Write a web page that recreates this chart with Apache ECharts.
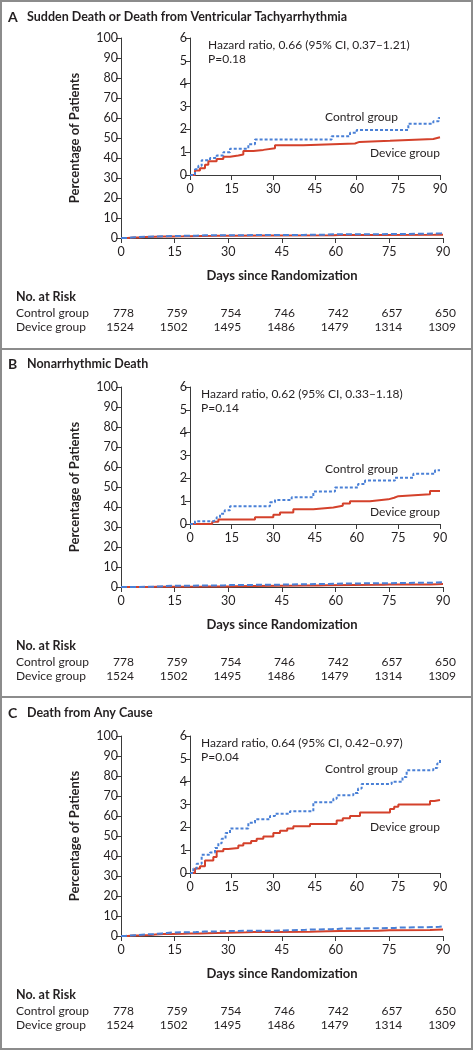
<!DOCTYPE html>
<html><head><meta charset="utf-8">
<script src="https://cdn.jsdelivr.net/npm/echarts@6/dist/echarts.min.js"></script>
<style>html,body{margin:0;padding:0;background:#fff}#c{width:473px;height:1050px}</style>
</head><body><div id="c"></div>
<script>
// ---------- data ----------
const dayTicks = [0, 15, 30, 45, 60, 75, 90];
const panelLetters = ['A', 'B', 'C'];
const panelTitles = ['Sudden Death or Death from Ventricular Tachyarrhythmia', 'Nonarrhythmic Death', 'Death from Any Cause'];
const hazardTexts = ['Hazard ratio, 0.66 (95% CI, 0.37\u20131.21)', 'Hazard ratio, 0.62 (95% CI, 0.33\u20131.18)', 'Hazard ratio, 0.64 (95% CI, 0.42\u20130.97)'];
const pTexts = ['P=0.18', 'P=0.14', 'P=0.04'];
const groupNames = ['Control group', 'Device group'];

const controlA = [[0,0],[1.8,0.25],[3,0.4],[4.2,0.65],[7.2,0.74],[9.6,0.85],[12,1.0],[14.4,1.15],[21,1.35],[23.4,1.55],[51,1.7],[57.6,1.85],[60,1.97],[78.6,2.25],[87.6,2.35],[89.5,2.5],[90,2.5]];
const deviceA = [[0,0],[1.8,0.2],[3.6,0.3],[5.4,0.45],[6.6,0.6],[9.6,0.7],[12,0.8],[14.4,0.85],[17.4,0.9],[19.2,1.05],[22.8,1.1],[26.4,1.17],[30.6,1.3],[40.8,1.38],[59.4,1.45],[61,1.5],[72,1.58],[87.6,1.65],[90,1.67]];
const controlB = [[0,0],[1.8,0.12],[8.4,0.2],[9.6,0.3],[10.8,0.45],[12.5,0.6],[14.4,0.78],[28.8,0.95],[30.6,1.05],[36.6,1.17],[44.4,1.42],[52.2,1.6],[60.5,1.75],[63,1.9],[73.8,2.03],[80.4,2.2],[88.2,2.35],[90,2.35]];
const deviceB = [[0,0],[8,0.1],[10.2,0.2],[23.4,0.3],[30,0.4],[32.4,0.5],[37.2,0.65],[44.4,0.72],[51.6,0.8],[55,0.9],[57.6,1.0],[64.8,1.08],[71.4,1.15],[73.5,1.22],[75,1.3],[86.4,1.45],[90,1.45]];
const controlC = [[0,0],[1.2,0.2],[2.4,0.4],[4.2,0.8],[7.2,0.9],[9,1.1],[10.2,1.3],[11.4,1.5],[12.8,1.75],[14.4,1.95],[21,2.2],[23.4,2.35],[28.8,2.5],[30.6,2.6],[36,2.7],[44.4,3.1],[51.6,3.25],[52.8,3.4],[58.8,3.5],[60.5,3.7],[61.8,3.9],[72.6,4.0],[76.5,4.2],[78,4.5],[87.6,4.6],[89,4.8],[90,5.0]];
const deviceC = [[0,0],[1.8,0.2],[3.6,0.3],[5.4,0.55],[8.4,0.7],[9.6,0.95],[12,1.05],[13.8,1.1],[17.4,1.2],[19.2,1.3],[22,1.4],[24,1.5],[26.4,1.6],[30,1.75],[32.4,1.85],[35,1.95],[37.2,2.05],[43.2,2.15],[52.8,2.3],[55,2.4],[57.6,2.5],[61.2,2.65],[72,2.8],[73.5,2.9],[75,3.0],[86.4,3.15],[88,3.2],[90,3.2]];

const atRiskControl = [778, 759, 754, 746, 742, 657, 650];
const atRiskDevice = [1524, 1502, 1495, 1486, 1479, 1314, 1309];

// ---------- layout / style ----------
const controls = [controlA, controlB, controlC];
const devices = [deviceA, deviceB, deviceC];
const offsets = [0, 349, 698];
const headingY = [17, 364, 713];
const hazardX = [208, 201, 201];
const controlLabelY = [117, 120, 71];
const deviceLabelY = [153, 163, 129];
const FONT = 'Lato';
const TXT = '#231f20';
const AX = '#3a3a3a';
const RED = '#d4412b';
const BLUE = '#4a80d6';

const chart = echarts.init(document.getElementById('c'), null, {renderer: 'canvas'});

const grids = [], xAxes = [], yAxes = [], series = [];
function axisCommon() {
  return {
    axisLine: {show: true, lineStyle: {color: AX, width: 1}},
    axisTick: {show: true, length: 5, lineStyle: {color: AX, width: 1}},
    splitLine: {show: false},
    axisLabel: {color: TXT, fontFamily: FONT, fontSize: 12.5}
  };
}
for (let p = 0; p < 3; p++) {
  const oy = offsets[p];
  grids.push({left: 121, top: 38 + oy, width: 322, height: 200});
  grids.push({left: 190, top: 38 + oy, width: 250, height: 137});
  const gm = p * 2, gi = p * 2 + 1;
  xAxes.push(Object.assign(axisCommon(), {
    type: 'value', gridIndex: gm, min: 0, max: 90, interval: 15,
    name: 'Days since Randomization', nameLocation: 'middle', nameGap: 31,
    nameTextStyle: {color: TXT, fontFamily: FONT, fontSize: 13, fontWeight: 'bold'}
  }));
  xAxes[xAxes.length - 1].axisLabel.margin = 7;
  yAxes.push(Object.assign(axisCommon(), {
    type: 'value', gridIndex: gm, min: 0, max: 100, interval: 10,
    name: 'Percentage of Patients', nameLocation: 'middle', nameGap: 40,
    nameTextStyle: {color: TXT, fontFamily: FONT, fontSize: 13, fontWeight: 'bold'}
  }));
  yAxes[yAxes.length - 1].axisLabel.margin = 3;
  xAxes.push(Object.assign(axisCommon(), {type: 'value', gridIndex: gi, min: 0, max: 90, interval: 15}));
  xAxes[xAxes.length - 1].axisLabel.margin = 7;
  yAxes.push(Object.assign(axisCommon(), {type: 'value', gridIndex: gi, min: 0, max: 6, interval: 1}));
  yAxes[yAxes.length - 1].axisLabel.margin = 3;

  const mk = (data, idx, color, dashed, dash) => ({
    type: 'line', xAxisIndex: idx, yAxisIndex: idx, data: data, step: 'end',
    showSymbol: false, symbol: 'none', silent: true, animation: false,
    lineStyle: {color: color, width: 2, type: dashed ? dash : 'solid', cap: 'butt'}
  });
  series.push(mk(devices[p], gm, RED, false));
  series.push(mk(controls[p], gm, BLUE, true, [6, 3]));
  series.push(mk(devices[p], gi, RED, false));
  series.push(mk(controls[p], gi, BLUE, true, [3, 2]));
}

chart.setOption({
  backgroundColor: '#fff',
  animation: false,
  textStyle: {fontFamily: FONT},
  grid: grids, xAxis: xAxes, yAxis: yAxes, series: series
});

// ---------- text graphics ----------
const g = [];
g.push({type: 'rect', shape: {x: 1, y: 1, width: 471, height: 1048}, style: {fill: 'none', stroke: '#8c8c8c', lineWidth: 2}, silent: true});
g.push({type: 'line', shape: {x1: 0, y1: 349, x2: 473, y2: 349}, style: {stroke: '#8c8c8c', lineWidth: 2}, silent: true});
g.push({type: 'line', shape: {x1: 0, y1: 697, x2: 473, y2: 697}, style: {stroke: '#8c8c8c', lineWidth: 2}, silent: true});
const txt = (x, y, s, opt) => ({type: 'text', x: x, y: y, silent: true,
  style: {text: s, fill: TXT, font: (opt && opt.font) || ('12px ' + FONT), textVerticalAlign: 'middle', textAlign: (opt && opt.align) || 'left'}});
for (let p = 0; p < 3; p++) {
  const oy = offsets[p];
  g.push(txt(8, headingY[p], panelLetters[p], {font: 'bold 14px ' + FONT}));
  g.push(txt(27, headingY[p], panelTitles[p], {font: 'bold 12.5px ' + FONT}));
  g.push(txt(hazardX[p], 45 + oy, hazardTexts[p]));
  g.push(txt(hazardX[p], 59 + oy, pTexts[p]));
  g.push(txt(325, controlLabelY[p] + oy, groupNames[0]));
  g.push(txt(370, deviceLabelY[p] + oy, groupNames[1]));
  g.push(txt(16, 297 + oy, 'No. at Risk', {font: 'bold 12.5px ' + FONT}));
  g.push(txt(16, 313 + oy, groupNames[0]));
  g.push(txt(16, 327 + oy, groupNames[1]));
  for (let i = 0; i < dayTicks.length; i++) {
    const px = chart.convertToPixel({xAxisIndex: p * 2}, dayTicks[i]);
    g.push(txt(px + 13, 313 + oy, String(atRiskControl[i]), {align: 'right'}));
    g.push(txt(px + 13, 327 + oy, String(atRiskDevice[i]), {align: 'right'}));
  }
}
chart.setOption({graphic: g});
</script>
</body></html>
